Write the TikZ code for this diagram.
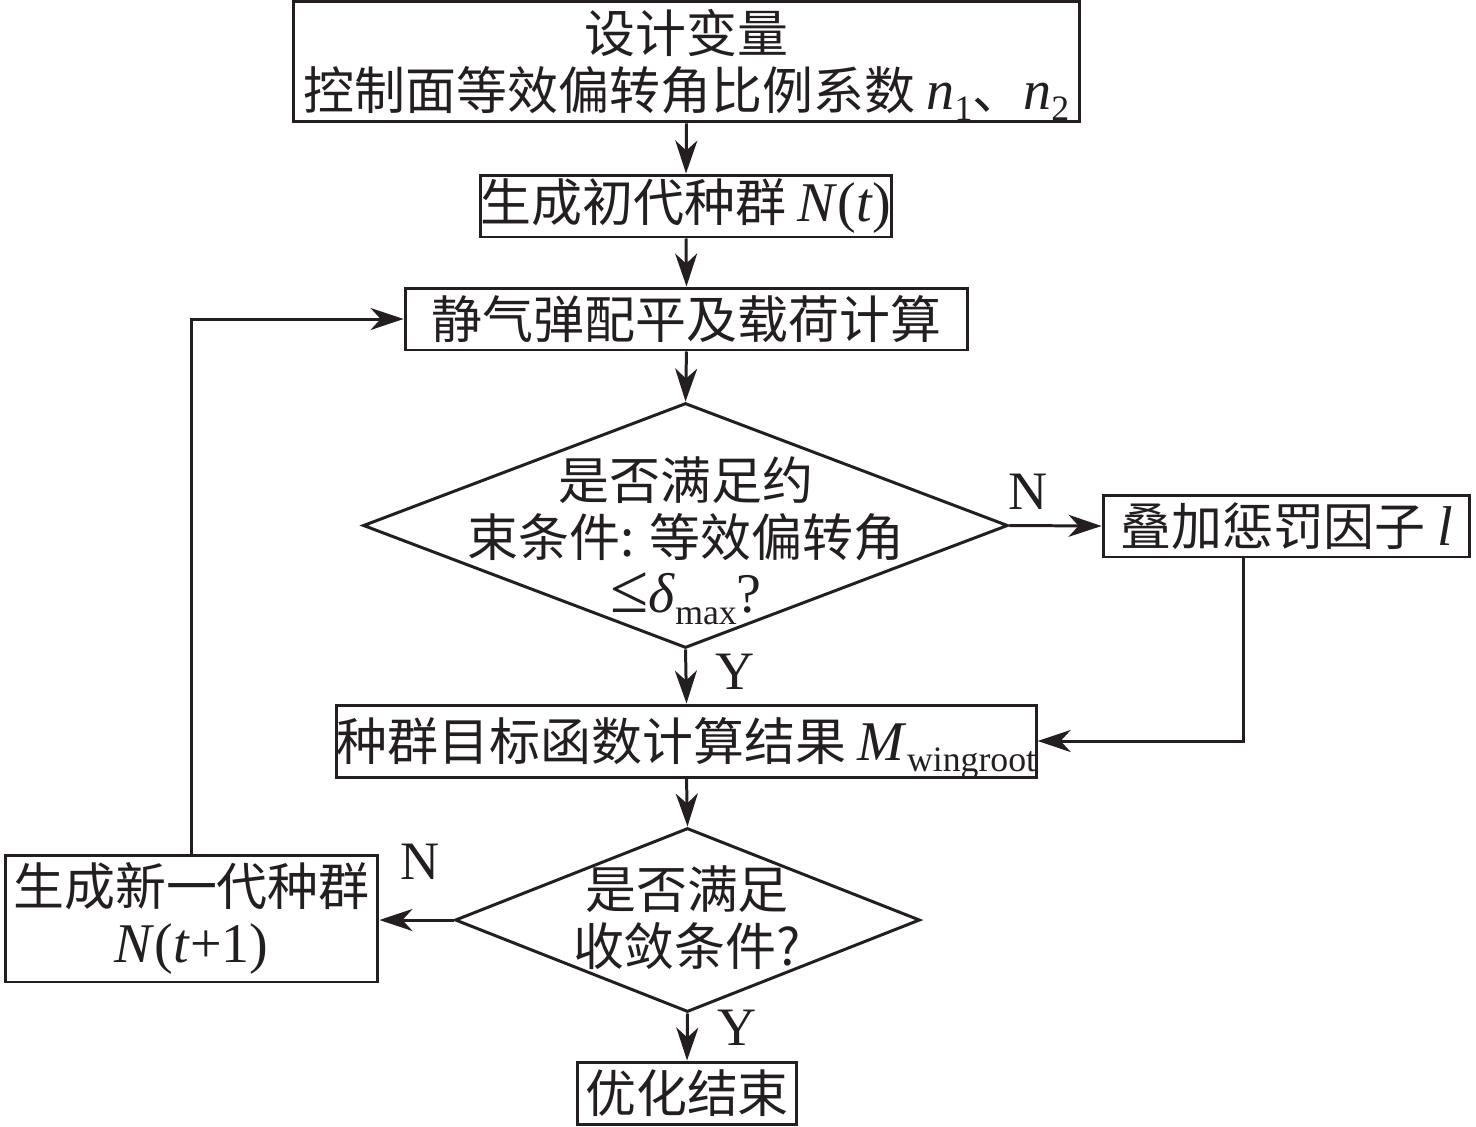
\documentclass[tikz,border=0pt]{standalone}
\usepackage{fontspec}
\setmainfont{Noto Sans CJK SC}
\newfontfamily\lat[Scale=1.1]{Liberation Serif}
\usetikzlibrary{shapes.geometric,arrows.meta}
\definecolor{ink}{HTML}{231F20}
\newcommand\mysub[1]{\smash{\raisebox{-0.2em}{\fontsize{18.5}{18.5}\selectfont #1}}}
\begin{document}
\begin{tikzpicture}[x=0.02cm,y=-0.02cm, line width=1.7pt, draw=ink, text=ink,
  >={Stealth[length=0.66cm,width=0.44cm,inset=0.2cm]},
  box/.style={draw=ink, rectangle, inner sep=0pt, align=center, font=\fontsize{29}{32.4}\selectfont},
  dia/.style={draw=ink, diamond, inner sep=0pt},
  txt/.style={align=center, inner sep=0pt, font=\fontsize{29}{32.4}\selectfont},
  lbl/.style={inner sep=0pt, font=\lat\fontsize{28}{32}\selectfont}]
\useasboundingbox (0,0) rectangle (1476,1126);
\node[box, minimum width=15.74cm, minimum height=2.42cm] (b1) at (686.5,61.5)
  {设计变量\\控制面等效偏转角比例系数 {\lat\textit{n}\mysub{1}}、{\lat\textit{n}\mysub{2}}};
\node[box, minimum width=8.2cm, minimum height=1.24cm] (b2) at (686,206)
  {生成初代种群 {\lat\textit{N}(\textit{t})}};
\node[box, minimum width=11.26cm, minimum height=1.24cm] (b3) at (686.5,319)
  {静气弹配平及载荷计算};
\node[dia, minimum width=12.9cm, minimum height=4.9cm] (d1) at (685.5,525.5) {};
\node[txt] (t1) at (686,535)
  {是否满足约\\束条件: 等效偏转角\\{\lat{\fontsize{36}{34}\selectfont ≤}\textit{δ}\mysub{max}?}};
\node[box, minimum width=7.34cm, minimum height=1.24cm] (b4) at (1286.5,526)
  {叠加惩罚因子 {\lat\textit{l}}};
\node[box, minimum width=13.94cm, minimum height=1.44cm] (b5) at (686.5,741)
  {种群目标函数计算结果 {\lat\textit{M}\mysub{wingroot}}};
\node[dia, minimum width=9.3cm, minimum height=3.68cm] (d2) at (687.5,920) {};
\node[txt] (t2) at (687,918) {是否满足\\收敛条件?};
\node[box, minimum width=7.46cm, minimum height=2.54cm] (b6) at (191.5,918.5)
  {生成新一代种群\\{\lat\textit{N}(\textit{t}+1)}};
\node[box, minimum width=4.4cm, minimum height=1.24cm] (b7) at (687,1093) {优化结束};

\node[lbl] (n1) at (1028,492) {N};
\node[lbl] (y1) at (735,672) {Y};
\node[lbl] (n2) at (420,862) {N};
\node[lbl] (y2) at (737,1028) {Y};

\draw[->] (b1.south) -- (b2.north);
\draw[->] (b2.south) -- (b3.north);
\draw[->] (b3.south) -- (d1.north);
\draw[->] (d1.south) -- (b5.north);
\draw[->] (d1.east) -- (b4.west);
\draw[->] ([xshift=-0.87cm]b4.south) |- (b5.east);
\draw[->] (b5.south) -- (d2.north);
\draw[->] (d2.south) -- (b7.north);
\draw[->] (d2.west) -- (d2.west -| b6.east);
\draw[->] (b6.north) |- (b3.west);
\end{tikzpicture}
\end{document}
